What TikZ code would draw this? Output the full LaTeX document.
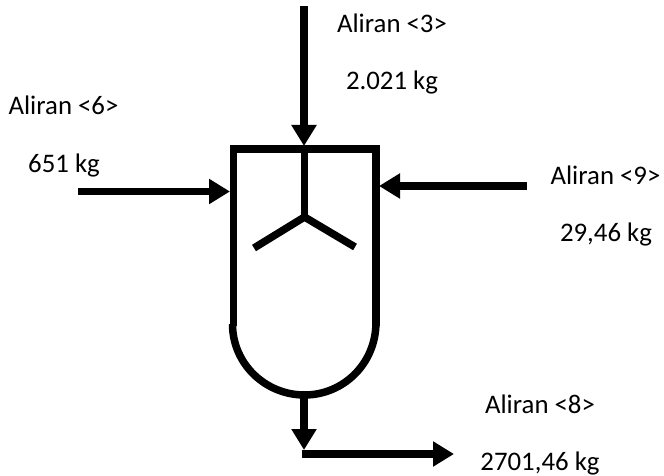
\documentclass[tikz,border=0pt]{standalone}
\usepackage{fontspec}
\setmainfont{Carlito}
\usetikzlibrary{arrows.meta}
\tikzset{
  flow/.style={line width=7.5pt,-{Triangle[length=21pt,width=24pt]}},
  vessel/.style={line width=7.5pt},
  lab/.style={font=\fontsize{26.8}{30}\selectfont,inner sep=0pt,text=black,anchor=base},
}
\begin{document}
\begin{tikzpicture}[x=1pt,y=-1pt]
\useasboundingbox (0,0) rectangle (664,476);
\coordinate (topin) at (304,6.5);
\coordinate (topout) at (304,146);
\coordinate (lin) at (78,191.5);
\coordinate (lout) at (230,191.5);
\coordinate (rin) at (527,186);
\coordinate (rout) at (379,186);
\coordinate (tl) at (233.5,149);
\coordinate (tr) at (376,149);
\coordinate (bl) at (233.5,326);
\coordinate (br) at (376,326);
\coordinate (al) at (232.5,324);
\coordinate (ar) at (376,322);
\coordinate (stirtop) at (304.5,149);
\coordinate (hub) at (304.5,217);
\coordinate (bladeL) at (254,248);
\coordinate (bladeR) at (355,247);
\coordinate (bot) at (304,395);
\coordinate (bottip) at (304,450);
\coordinate (corner) at (302,454);
\coordinate (outtip) at (454,454);
\draw[vessel,line join=miter] (bl) -- (tl) -- (tr) -- (br);
\draw[vessel] (al) .. controls (232.5,364) and (265.5,395) .. (304.5,395) .. controls (343,395) and (376,364) .. (ar);
\draw[vessel] (stirtop) -- (hub);
\draw[vessel,line join=miter] (bladeL) -- (hub) -- (bladeR);
\draw[flow] (topin) -- (topout);
\draw[flow] (lin) -- (lout);
\draw[flow] (rin) -- (rout);
\draw[flow] (bot) -- (bottip);
\draw[flow] (corner) -- (outtip);
\node[lab] (a3) at (392,33) {Aliran <3>};
\node[lab] (m3) at (392,90) {2.021 kg};
\node[lab] (a6) at (63.5,115) {Aliran <6>};
\node[lab] (m6) at (64,172.5) {651 kg};
\node[lab] (a9) at (605.5,185) {Aliran <9>};
\node[lab] (m9) at (606,241.7) {29,46 kg};
\node[lab] (a8) at (540,413) {Aliran <8>};
\node[lab] (m8) at (540,470) {2701,46 kg};
\end{tikzpicture}
\end{document}
